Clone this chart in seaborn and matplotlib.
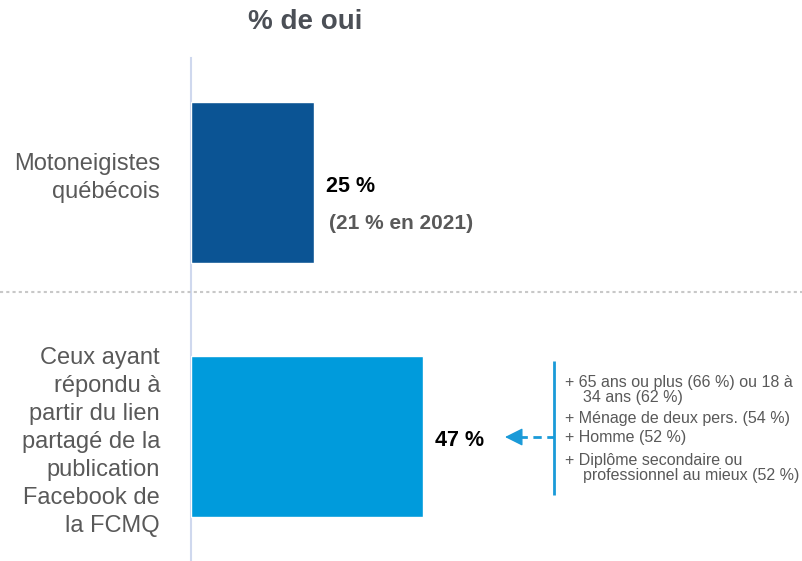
import matplotlib
matplotlib.use("Agg")
import matplotlib.pyplot as plt
import seaborn as sns
import pandas as pd
from matplotlib.lines import Line2D

groups = ["Motoneigistes\nquébécois",
          "Ceux ayant\nrépondu à\npartir du lien\npartagé de la\npublication\nFacebook de\nla FCMQ"]
values = [25, 47]
value_labels = ["25 %", "47 %"]
note_2021 = "(21 % en 2021)"
details = ["+ 65 ans ou plus (66 %) ou 18 à\n    34 ans (62 %)",
           "+ Ménage de deux pers. (54 %)",
           "+ Homme (52 %)",
           "+ Diplôme secondaire ou\n    professionnel au mieux (52 %)"]
colors = ["#0b5494", "#009bdc"]

df = pd.DataFrame({"groupe": groups, "pct": values})

sns.set_style("white")
plt.rcParams["font.family"] = ["Liberation Sans", "DejaVu Sans"]

PX = 4.93  # pixels per percent

def ypos(p):
    # pixel row -> category coordinate
    return (p - 182.5) / 254

fig = plt.figure(figsize=(8.02, 5.61), dpi=100)
ax = fig.add_axes([191 / 802, 0, 611 / 802, 503 / 561])

sns.barplot(data=df, y="groupe", x="pct", hue="groupe", palette=colors,
            orient="h", width=0.634, legend=False, saturation=1, ax=ax,
            zorder=3)

ax.set_xlim(0, 611 / PX)
ax.set_ylim(1.49, -0.49)
ax.set_xlabel("")
ax.set_ylabel("")
ax.set_xticks([])
ax.set_yticks([])
for s in ["top", "right", "bottom"]:
    ax.spines[s].set_visible(False)
ax.spines["left"].set_color("#cfd8ee")
ax.spines["left"].set_linewidth(1.5)
ax.spines["left"].set_zorder(1)

# category labels
ax.text(-31 / PX, ypos(178), groups[0], ha="right", va="center",
        fontsize=17, color="#595959", linespacing=1.33)
ax.text(-31 / PX, ypos(442), groups[1], ha="right", va="center",
        fontsize=17, color="#595959", linespacing=1.35)

# value labels
ax.text(values[0] + 12 / PX, ypos(187), value_labels[0], ha="left",
        va="center", fontsize=15.5, fontweight="bold", color="black")
ax.text(values[0] + 15 / PX, ypos(224), note_2021, ha="left", va="center",
        fontsize=15, fontweight="bold", color="#595959")
ax.text(values[1] + 12 / PX, ypos(440), value_labels[1], ha="left",
        va="center", fontsize=15.5, fontweight="bold", color="black")

# arrow and bracket
blue = "#1a9ad8"
x_br = (554 - 191) / PX
ax.plot([(519 - 191) / PX, x_br], [ypos(437), ypos(437)], color=blue, lw=2,
        linestyle=(0, (3, 2)))
ax.annotate("", xy=((505 - 191) / PX, ypos(437)),
            xytext=((521 - 191) / PX, ypos(437)),
            arrowprops=dict(arrowstyle="-|>,head_length=1.1,head_width=0.55",
                            color=blue, lw=1, shrinkA=0, shrinkB=0))
ax.plot([x_br, x_br], [ypos(361), ypos(495)], color=blue, lw=2,
        solid_capstyle="butt", clip_on=False)

for d, yp in zip(details, [390, 418, 437, 468]):
    ax.text((565 - 191) / PX, ypos(yp), d, ha="left", va="center",
            fontsize=11.5, color="#595959", linespacing=1.0)

# dotted separator
fig.add_artist(Line2D([0, 1], [1 - 292 / 561, 1 - 292 / 561],
                      color="#c8c8c8", lw=1.5, linestyle=(0, (1.5, 1.5))))

fig.text(305 / 802, 1 - 22 / 561, "% de oui", ha="center", va="center",
         fontsize=20, fontweight="bold", color="#4b4f56")

fig.savefig("out.png", dpi=100)
